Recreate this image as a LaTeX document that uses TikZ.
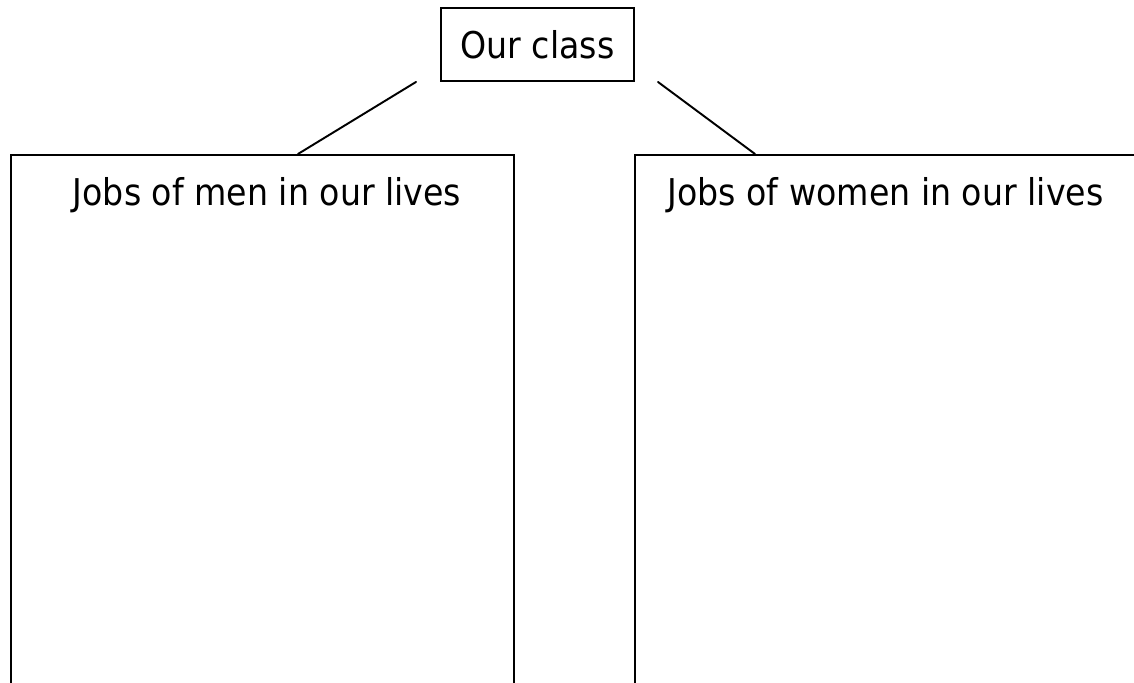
\documentclass[tikz,border=0pt]{standalone}
\usepackage{fontspec}
\setmainfont{DejaVu Sans}[FakeStretch=0.9]
\usetikzlibrary{calc,positioning}

\begin{document}
\begin{tikzpicture}[
    font=\fontsize{21}{25}\selectfont,
    line width=1.1pt,
    topbox/.style={draw, minimum width=3.86cm, minimum height=1.46cm, inner sep=0pt},
    column/.style={draw, minimum width=10.06cm, minimum height=12cm, inner sep=0pt, anchor=north west},
    heading/.style={anchor=base, inner sep=0pt},
    link/.style={line cap=round}
]
\useasboundingbox (0,0) rectangle (22.68,13.66);
\clip (0,0) rectangle (22.68,13.66);

% 1) Our class
\node[topbox] (cls) at (10.75,12.77) {Our class};

% 2) Jobs of men
\node[column] (men) at (0.2,10.58) {};
\node[heading] (menhead) at ($(men.north)+(0.09,-1.04)$) {Jobs of men in our lives};

% 3) Jobs of women
\node[column, minimum width=10.6cm] (women) at (12.68,10.58) {};
\node[heading] (womenhead) at ($(women.north west)+(5.03,-1.04)$) {Jobs of women in our lives};

% links
\coordinate[left=0.48 of cls.south west] (clsl);
\coordinate[right=5.76 of men.north west] (menin);
\coordinate[right=0.46 of cls.south east] (clsr);
\coordinate[right=2.42 of women.north west] (womenin);
\draw[link] (clsl) -- (menin);
\draw[link] (clsr) -- (womenin);
\end{tikzpicture}
\end{document}
